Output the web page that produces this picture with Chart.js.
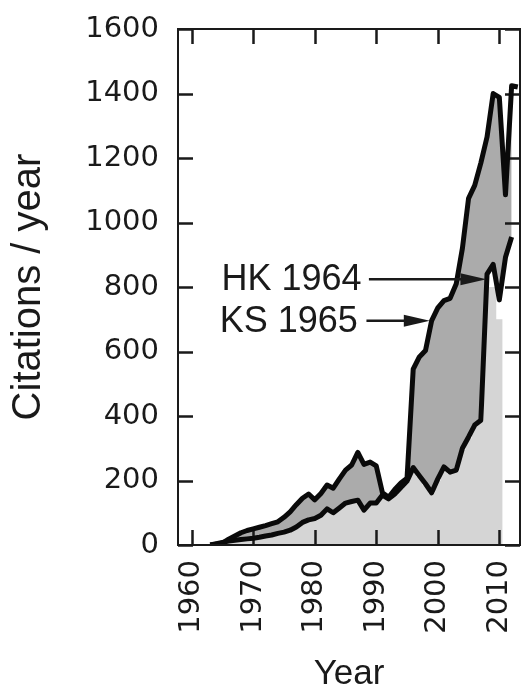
<!DOCTYPE html>
<html>
<head>
<meta charset="utf-8">
<script src="https://cdn.jsdelivr.net/npm/chart.js@4.4.0/dist/chart.umd.min.js"></script>
<style>
  html, body { margin: 0; padding: 0; background: #ffffff; }
  #wrap { width: 524px; height: 687px; }
  canvas { display: block; }
</style>
</head>
<body>
<div id="wrap"><canvas id="chart" width="524" height="687"></canvas></div>
<script>
// Yearly citation counts, 1963–2013
const years = [
  1963, 1964, 1965, 1966, 1967, 1968, 1969, 1970, 1971, 1972,
  1973, 1974, 1975, 1976, 1977, 1978, 1979, 1980, 1981, 1982,
  1983, 1984, 1985, 1986, 1987, 1988, 1989, 1990, 1991, 1992,
  1993, 1994, 1995, 1996, 1997, 1998, 1999, 2000, 2001, 2002,
  2003, 2004, 2005, 2006, 2007, 2008, 2009, 2010, 2011, 2012, 2013
];

// Kohn–Sham 1965
const ksCitations = [
  0, 2, 6, 18, 28, 38, 45, 50, 55, 60,
  66, 72, 86, 103, 125, 145, 158, 140, 160, 186,
  176, 205, 232, 248, 287, 250, 257, 245, 162, 148,
  172, 192, 207, 545, 583, 603, 696, 735, 758, 765,
  810, 920, 1075, 1115, 1185, 1265, 1400, 1388, 1086, 1424, 1420
];

// Hohenberg–Kohn 1964
const hkCitations = [
  0, 4, 8, 12, 15, 17, 19, 21, 24, 28,
  31, 36, 40, 46, 56, 70, 78, 82, 92, 112,
  100, 115, 130, 135, 139, 108, 130, 130, 155, 143,
  158, 178, 198, 240, 215, 190, 162, 205, 242, 226,
  232, 300, 335, 372, 387, 840, 870, 760, 892, 955, null
];

// Light grey backdrop area
const underlayCitations = [
  0, 4, 8, 12, 15, 17, 19, 21, 24, 28,
  31, 36, 40, 46, 56, 70, 78, 82, 92, 112,
  100, 115, 130, 135, 139, 108, 130, 130, 150, 140,
  155, 175, 195, 235, 212, 185, 160, 200, 238, 222,
  228, 295, 330, 368, 385, 800, 800, 700, 0, null, null
];

const yearTicks = [1960, 1970, 1980, 1990, 2000, 2010];
const citationTicks = [0, 200, 400, 600, 800, 1000, 1200, 1400, 1600];

// Arrow callouts (data units)
const calloutLabels = ['HK 1964', 'KS 1965'];
const calloutTextYear = [1987.6, 1987.0];
const calloutTailYear = [1988.8, 1988.4];
const calloutHeadYear = [2007.9, 1998.7];
const calloutValue = [824, 695];

const toPoints = vals => years.map((yr, i) => ({ x: yr, y: vals[i] }));

const INK = '#1a1a1a';
const MID_GREY = '#ababab';
const LIGHT_GREY = '#d5d5d5';

// Keep the plot box fixed: no extra room reserved for overhanging tick labels
const noLabelPadding = s => {
  s.paddingLeft = 0; s.paddingRight = 0; s.paddingTop = 0; s.paddingBottom = 0;
};

// Box frame with inward tick marks on all four sides
const frameTicks = {
  id: 'frameTicks',
  beforeDatasetsDraw(chart) {
    const { ctx, chartArea: a, scales: { x, y } } = chart;
    const len = 15;
    ctx.save();
    ctx.strokeStyle = INK;
    ctx.lineWidth = 2.5;
    ctx.beginPath();
    x.ticks.forEach(t => {
      const px = Math.round(x.getPixelForValue(t.value)) + 0.5;
      ctx.moveTo(px, a.bottom); ctx.lineTo(px, a.bottom - len);
      ctx.moveTo(px, a.top); ctx.lineTo(px, a.top + len);
    });
    y.ticks.forEach(t => {
      const py = Math.round(y.getPixelForValue(t.value)) + 0.5;
      ctx.moveTo(a.left, py); ctx.lineTo(a.left + len, py);
      ctx.moveTo(a.right, py); ctx.lineTo(a.right - len, py);
    });
    ctx.stroke();
    ctx.restore();
  },
  afterDatasetsDraw(chart) {
    const { ctx, chartArea: a } = chart;
    ctx.save();
    ctx.strokeStyle = INK;
    ctx.lineWidth = 2;
    ctx.strokeRect(a.left, a.top, a.right - a.left, a.bottom - a.top);
    ctx.restore();
  }
};

// Text labels with arrows pointing at the curves
const callouts = {
  id: 'callouts',
  afterDatasetsDraw(chart) {
    const { ctx, scales: { x, y } } = chart;
    ctx.save();
    ctx.fillStyle = INK;
    ctx.strokeStyle = INK;
    ctx.font = '36px "Liberation Sans", Arial, sans-serif';
    ctx.textAlign = 'right';
    ctx.textBaseline = 'middle';
    calloutLabels.forEach((txt, i) => {
      const py = y.getPixelForValue(calloutValue[i]);
      const tx = x.getPixelForValue(calloutTextYear[i]);
      const x0 = x.getPixelForValue(calloutTailYear[i]);
      const x1 = x.getPixelForValue(calloutHeadYear[i]);
      ctx.fillText(txt, tx, py + 1);
      const headLen = 26, headHalf = 6;
      ctx.lineWidth = 2.5;
      ctx.beginPath();
      ctx.moveTo(x0, py);
      ctx.lineTo(x1 - headLen + 2, py);
      ctx.stroke();
      ctx.beginPath();
      ctx.moveTo(x1, py);
      ctx.lineTo(x1 - headLen, py - headHalf);
      ctx.lineTo(x1 - headLen, py + headHalf);
      ctx.closePath();
      ctx.fill();
    });
    ctx.restore();
  }
};

new Chart(document.getElementById('chart'), {
  type: 'line',
  data: {
    datasets: [
      {
        label: 'KS 1965',
        data: toPoints(ksCitations),
        borderColor: '#0a0a0a',
        borderWidth: 5,
        borderJoinStyle: 'round',
        pointRadius: 0,
        fill: { target: 1 },
        backgroundColor: MID_GREY,
        tension: 0
      },
      {
        label: 'HK 1964',
        data: toPoints(hkCitations),
        borderColor: '#0a0a0a',
        borderWidth: 5,
        borderJoinStyle: 'round',
        pointRadius: 0,
        fill: false,
        tension: 0
      },
      {
        label: 'underlay',
        data: toPoints(underlayCitations),
        borderWidth: 0,
        borderColor: 'rgba(0,0,0,0)',
        backgroundColor: LIGHT_GREY,
        pointRadius: 0,
        stepped: 'middle',
        fill: 'origin'
      }
    ]
  },
  options: {
    responsive: false,
    animation: false,
    devicePixelRatio: 1,
    layout: { padding: { top: 29, right: 4, left: 0, bottom: 0 } },
    plugins: {
      legend: { display: false },
      tooltip: { enabled: false },
      filler: { drawTime: 'beforeDatasetsDraw' }
    },
    scales: {
      x: {
        type: 'linear',
        min: 1957.77,
        max: 2013.36,
        afterBuildTicks: s => { s.ticks = yearTicks.map(v => ({ value: v })); },
        afterFit: s => { s.height = 142; noLabelPadding(s); },
        grid: { display: false, drawTicks: false },
        border: { display: false },
        ticks: {
          autoSkip: false,
          minRotation: 90,
          maxRotation: 90,
          padding: 15,
          color: INK,
          font: { family: '"DejaVu Sans"', size: 29 },
          callback: v => String(v)
        },
        title: {
          display: true,
          text: 'Year',
          color: INK,
          font: { family: '"Liberation Sans"', size: 35, lineHeight: 0.6 },
          padding: { top: 0, bottom: 2 }
        }
      },
      y: {
        type: 'linear',
        min: 0,
        max: 1600,
        afterBuildTicks: s => { s.ticks = citationTicks.map(v => ({ value: v })); },
        afterFit: s => { s.width = 178; noLabelPadding(s); },
        grid: { display: false, drawTicks: false },
        border: { display: false },
        ticks: {
          padding: 19,
          color: INK,
          font: { family: '"DejaVu Sans"', size: 29 },
          callback: v => String(v)
        },
        title: {
          display: true,
          text: 'Citations / year',
          color: INK,
          font: { family: '"Liberation Sans"', size: 40, lineHeight: 0.6 },
          padding: { top: 17, bottom: 0 }
        }
      }
    }
  },
  plugins: [frameTicks, callouts]
});
</script>
</body>
</html>
